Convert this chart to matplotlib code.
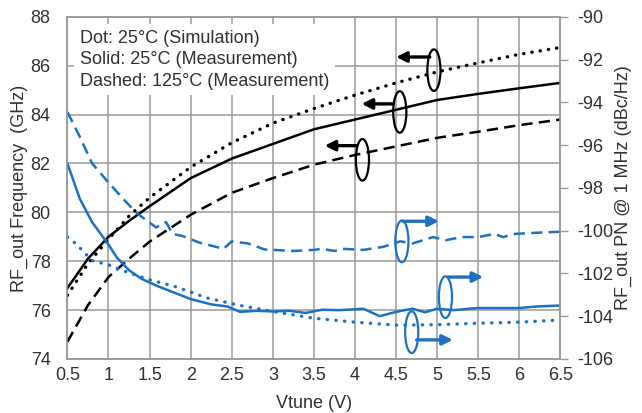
import matplotlib
matplotlib.use("Agg")
import matplotlib.pyplot as plt
from matplotlib.patches import Ellipse

plt.rcParams['font.family'] = ['Liberation Sans', 'DejaVu Sans']
plt.rcParams['axes.unicode_minus'] = False

# ---- data ----
v_black = [0.5, 0.75, 1.0, 1.25, 1.5, 2.0, 2.5, 3.0, 3.5, 4.0, 4.5, 5.0, 5.5, 6.0, 6.5]
f_sim_25 = [76.6, 77.9, 78.9, 79.85, 80.6, 81.85, 82.85, 83.65, 84.25, 84.8, 85.3, 85.75, 86.12, 86.47, 86.75]
f_meas_25 = [76.9, 78.1, 79.0, 79.65, 80.25, 81.4, 82.2, 82.8, 83.4, 83.8, 84.2, 84.6, 84.85, 85.08, 85.3]
f_meas_125 = [74.7, 76.2, 77.35, 78.1, 78.8, 79.9, 80.8, 81.4, 81.95, 82.35, 82.7, 83.05, 83.3, 83.57, 83.8]

v_pn_meas25 = [0.5, 0.65, 0.8, 1.0, 1.1, 1.25, 1.4, 1.6, 1.8, 2.0, 2.25, 2.45, 2.6, 2.8, 3.0, 3.2,
               3.4, 3.6, 3.8, 4.0, 4.1, 4.3, 4.5, 4.7, 4.85, 5.0, 5.2, 5.4, 5.5, 6.0, 6.2, 6.5]
pn_meas25 = [-96.85, -98.5, -99.6, -100.65, -101.25, -101.85, -102.25, -102.6, -102.9, -103.2,
             -103.45, -103.55, -103.8, -103.75, -103.78, -103.75, -103.85, -103.7, -103.72, -103.68,
             -103.65, -104.0, -103.8, -103.65, -103.82, -103.65, -103.72, -103.65, -103.62, -103.62,
             -103.55, -103.5]

v_pn_sim25 = [0.5, 0.6, 0.8, 1.0, 1.2, 1.5, 1.8, 2.2, 2.6, 3.0, 3.5, 4.0, 4.5, 5.0, 5.5, 6.0, 6.5]
pn_sim25 = [-100.3, -100.6, -101.4, -101.6, -101.9, -102.3, -102.6, -103.15, -103.5, -103.78,
            -104.1, -104.28, -104.42, -104.4, -104.33, -104.28, -104.18]

v_pn_meas125 = [0.5, 0.65, 0.8, 1.0, 1.2, 1.35, 1.58, 1.7, 1.78, 1.9, 2.1, 2.4, 2.5, 2.7, 2.9,
                3.25, 3.5, 3.6, 3.75, 3.85, 4.1, 4.35, 4.55, 4.7, 4.95, 5.1, 5.3, 5.5, 5.7, 5.8,
                5.95, 6.2, 6.5]
pn_meas125 = [-94.45, -95.6, -96.85, -97.75, -98.6, -99.2, -99.85, -99.6, -100.15, -100.25,
              -100.55, -100.85, -100.5, -100.6, -100.88, -100.95, -100.9, -100.85, -100.95,
              -100.85, -100.9, -100.75, -100.5, -100.6, -100.3, -100.45, -100.3, -100.3, -100.15,
              -100.3, -100.15, -100.1, -100.05]

x_ticks = [0.5, 1, 1.5, 2, 2.5, 3, 3.5, 4, 4.5, 5, 5.5, 6, 6.5]
x_tick_labels = ['0.5', '1', '1.5', '2', '2.5', '3', '3.5', '4', '4.5', '5', '5.5', '6', '6.5']
left_ticks = [74, 76, 78, 80, 82, 84, 86, 88]
right_ticks = [-106, -104, -102, -100, -98, -96, -94, -92, -90]

legend_lines = ["Dot: 25\u00b0C (Simulation)",
                "Solid: 25\u00b0C (Measurement)",
                "Dashed: 125\u00b0C (Measurement)"]

BLUE = '#1c72c0'
TXT = '#303030'
GRID = '#9a9a9a'

fig = plt.figure(figsize=(6.42, 4.13), dpi=100)
ax = fig.add_axes([0.105, 0.131, 0.768, 0.828])
ax2 = ax.twinx()

# black frequency curves (left axis)
ax.plot(v_black, f_sim_25, color='black', lw=2.4, linestyle=(0, (0.1, 2.4)),
        dash_capstyle='round', zorder=3)
ax.plot(v_black, f_meas_25, color='black', lw=1.8, zorder=3)
ax.plot(v_black, f_meas_125, color='black', lw=1.8, linestyle=(0, (4.5, 2.5)), zorder=3)

# blue PN curves (right axis)
ax2.plot(v_pn_sim25, pn_sim25, color=BLUE, lw=2.4, linestyle=(0, (0.1, 2.5)),
         dash_capstyle='round')
ax2.plot(v_pn_meas25, pn_meas25, color=BLUE, lw=1.8)
ax2.plot(v_pn_meas125, pn_meas125, color=BLUE, lw=1.8, linestyle=(0, (4.5, 2.5)))

ax.set_xlim(0.5, 6.5)
ax.set_ylim(74, 88)
ax2.set_ylim(-106, -90)

ax.set_xticks(x_ticks)
ax.set_xticklabels(x_tick_labels)
ax.set_yticks(left_ticks)
ax2.set_yticks(right_ticks)

ax.grid(True, color=GRID, lw=1.1)
ax.set_axisbelow(True)

for a in (ax, ax2):
    for s in a.spines.values():
        s.set_color(GRID)
        s.set_linewidth(1.1)

ax.tick_params(axis='x', length=0, pad=6, labelsize=13, labelcolor=TXT)
ax.tick_params(axis='y', length=0, pad=12, labelsize=13, labelcolor=TXT)
ax2.tick_params(axis='y', length=6, width=1.0, color=GRID, pad=6, labelsize=13, labelcolor=TXT)

ax.set_xlabel('Vtune (V)', fontsize=13, color=TXT, labelpad=8)
ax.set_ylabel('RF_out Frequency  (GHz)', fontsize=13, color=TXT, labelpad=2)
ax2.set_ylabel('RF_out PN @ 1 MHz (dBc/Hz)', fontsize=13, color=TXT, labelpad=1)

# legend text box with white background covering the grid
ax.text(0.025, 0.963, "\n".join(legend_lines), transform=ax.transAxes, ha='left', va='top',
        fontsize=13, color=TXT, linespacing=1.35, zorder=5,
        bbox=dict(facecolor='white', edgecolor='none', pad=4))

# black ellipses + left arrows (left axis)
black_marks = [((4.96, 85.82), (4.91, 86.36), (4.50, 86.36)),
               ((4.545, 84.11), (4.46, 84.44), (4.08, 84.44)),
               ((4.09, 82.15), (4.02, 82.73), (3.63, 82.73))]
for (cx, cy), (ax0, ay0), (ax1, ay1) in black_marks:
    ax.add_patch(Ellipse((cx, cy), 0.16, 1.7, fill=False, edgecolor='black', lw=1.6, zorder=6))
    ax.annotate('', xy=(ax1, ay1), xytext=(ax0, ay0),
                arrowprops=dict(arrowstyle='-|>,head_length=0.6,head_width=0.3', color='black',
                                lw=2.4, shrinkA=0, shrinkB=0), zorder=6)

# blue ellipses + right arrows (right axis)
blue_marks = [((4.57, -100.5), (4.585, -99.56), (5.02, -99.56)),
              ((5.10, -103.11), (5.13, -102.17), (5.56, -102.17)),
              ((4.69, -104.75), (4.75, -105.11), (5.19, -105.11))]
for (cx, cy), (ax0, ay0), (ax1, ay1) in blue_marks:
    ax2.add_patch(Ellipse((cx, cy), 0.16, 1.95, fill=False, edgecolor=BLUE, lw=1.6, zorder=6))
    ax2.annotate('', xy=(ax1, ay1), xytext=(ax0, ay0),
                 arrowprops=dict(arrowstyle='-|>,head_length=0.6,head_width=0.3', color=BLUE,
                                 lw=2.4, shrinkA=0, shrinkB=0), zorder=6)

fig.savefig('out.png', dpi=100, facecolor='white')
